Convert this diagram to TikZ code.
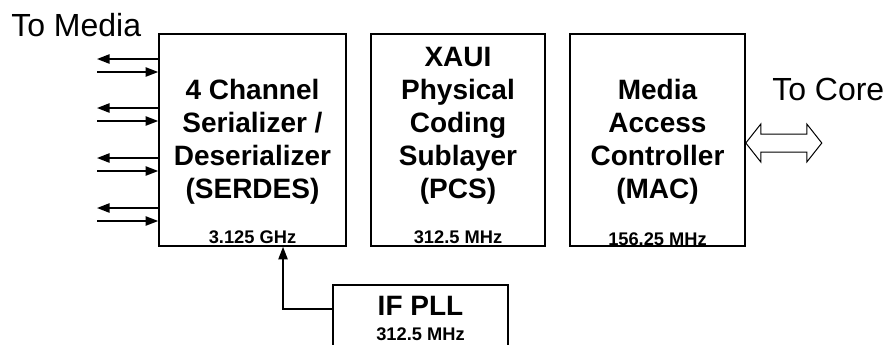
\documentclass[tikz,border=0pt]{standalone}
\usepackage{fontspec}
\setmainfont{Liberation Sans}
\usetikzlibrary{arrows.meta,positioning}

\tikzset{
  block/.style={draw, line width=1.2pt, inner sep=0pt, minimum height=159pt},
  blocktext/.style={font=\bfseries\fontsize{21}{24.75}\selectfont, align=center, inner sep=0pt},
  freq/.style={font=\bfseries\fontsize{13.7}{16}\selectfont, inner sep=0pt, anchor=base},
  note/.style={font=\fontsize{24}{28}\selectfont, inner sep=0pt, anchor=base west},
  conn/.style={line width=1.2pt, -{Triangle[length=9.5pt,width=7pt]}},
}

\begin{document}
\begin{tikzpicture}[x=0.75pt, y=-0.75pt]

        \useasboundingbox (0,0) rectangle (893,344);
        \clip (0,0) rectangle (893,344);

        % Blocks
        \node[block, minimum width=140.25pt] (serdes) at (252.5,140) {};
        \node[block, minimum width=130.5pt] (pcs) at (458,140) {};
        \node[block, minimum width=131.25pt] (mac) at (657.5,140) {};
        \node[block, minimum width=131.25pt, minimum height=60pt, anchor=north] (ifpll) at (420.5,284) {};

        % Block texts
        \node[blocktext, above=31.5pt of serdes.south] (serdestxt) {4 Channel\\Serializer /\\Deserializer\\(SERDES)};
        \node[blocktext, above=31.5pt of pcs.south] (pcstxt) {XAUI\\Physical\\Coding\\Sublayer\\(PCS)};
        \node[blocktext, above=31.5pt of mac.south] (mactxt) {Media\\Access\\Controller\\(MAC)};
        \node[blocktext, anchor=base] (ifplltxt) at ([yshift=-23.25pt]ifpll.north) {IF PLL};

        % Clock rates
        \node[freq] (serdesfreq) at ([yshift=2.25pt]serdes.south) {3.125 GHz};
        \node[freq] (pcsfreq) at ([yshift=2.25pt]pcs.south) {312.5 MHz};
        \node[freq] (macfreq) at ([yshift=1pt]mac.south) {156.25 MHz};
        \node[freq] (ifpllfreq) at ([yshift=-42.5pt]ifpll.north) {312.5 MHz};

        % Clock from PLL
        \draw[conn] ([yshift=-18.75pt]ifpll.north west) -| ([xshift=22.9pt]serdes.south);

        % Media lanes
        \foreach \i/\y in {1/59,2/108,3/158,4/208}{
            \coordinate (out\i) at (97,\y);
            \coordinate (in\i) at (97,\y+13);
            \draw[conn] (serdes.west |- out\i) -- (out\i);
            \draw[conn] (in\i) -- (serdes.west |- in\i);
        }

        % Core interface
        \coordinate (core) at (mac.east |- 0,143);
        \draw[line width=0.75pt] (core) -- ++(15,-19) -- ++(0,10) -- ++(46,0) -- ++(0,-10)
            -- ++(15,19) -- ++(-15,19) -- ++(0,-10) -- ++(-46,0) -- ++(0,10) -- cycle;

        % Labels
        \node[note] (medialbl) at (11,36) {To Media};
        \node[note] (corelbl) at (772,100) {To Core};

\end{tikzpicture}
\end{document}
